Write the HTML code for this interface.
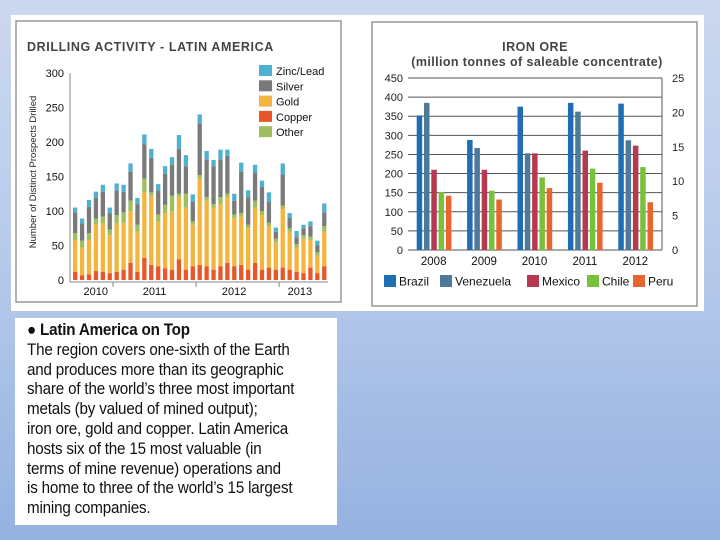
<!DOCTYPE html>
<html><head><meta charset="utf-8"><style>
html,body{margin:0;padding:0;width:720px;height:540px;overflow:hidden;}
body{background:linear-gradient(180deg,#cbd8ef 0%,#b9cbeb 45%,#94b2e0 100%);font-family:"Liberation Sans",sans-serif;position:relative;}
#backing{position:absolute;left:11px;top:15px;width:693px;height:296px;background:#fff;}
#textbox{position:absolute;left:15px;top:318px;width:322px;height:207px;background:#fff;color:#111;overflow:hidden;}
#tb-inner{position:absolute;left:12px;top:3px;font-size:16.5px;line-height:19.8px;white-space:nowrap;transform:scaleX(0.92);transform-origin:0 0;letter-spacing:-0.2px;}
svg{position:absolute;left:0;top:0;}
</style></head><body>
<div id="backing"></div>
<svg width="720" height="540" id="s">
<rect x="16" y="21" width="325" height="281" fill="#fff" stroke="#999" stroke-width="1.5"/>
<text x="27" y="51" font-size="12.5" font-weight="bold" fill="#444" letter-spacing="0.6">DRILLING ACTIVITY - LATIN AMERICA</text>
<text transform="translate(36,172) rotate(-90)" text-anchor="middle" font-size="9.5" fill="#222">Number of Distinct Prospects Drilled</text>
<rect x="372" y="22" width="325" height="284" fill="#fff" stroke="#999" stroke-width="1.5"/>
<text x="535" y="51" text-anchor="middle" font-size="12.5" font-weight="bold" fill="#444" letter-spacing="0.5">IRON ORE</text>
<text x="537" y="66" text-anchor="middle" font-size="12.5" font-weight="bold" fill="#444" letter-spacing="0.4">(million tonnes of saleable concentrate)</text>
<g id="left"></g><g id="right"></g>
</svg>
<div id="textbox"><div id="tb-inner"><b>● Latin America on Top</b><br>The region covers one-sixth of the Earth<br>and produces more than its geographic<br>share of the world’s three most important<br>metals (by valued of mined output);<br>iron ore, gold and copper. Latin America<br>hosts six of the 15 most valuable (in<br>terms of mine revenue) operations and<br>is home to three of the world’s 15 largest<br>mining companies.</div></div>
<script>
const copper=[12,7,8,13,12,10,12,15,25,12,32,22,20,17,15,30,15,20,22,20,15,20,25,20,22,15,25,15,18,15,18,15,12,10,18,10,20];
const gold=[46,40,50,68,70,55,70,68,75,58,95,100,65,80,85,90,90,60,125,95,90,90,95,70,70,60,80,80,60,40,85,55,35,50,40,25,50];
const other=[10,10,10,8,10,8,12,15,15,10,20,5,10,12,22,5,20,5,5,5,5,10,5,5,5,5,10,5,5,5,5,5,5,5,5,5,8];
const silver=[30,25,38,30,36,24,36,30,42,30,50,50,35,45,45,65,40,28,75,55,55,55,55,20,60,40,40,35,30,10,45,15,10,10,15,10,20];
const zinc=[7,7,10,9,10,8,10,10,12,9,14,13,9,11,11,20,16,11,13,12,9,14,9,10,13,10,12,9,14,6,16,7,9,5,7,7,13];
const leftTicks=[0,50,100,150,200,250,300];
const yearLabels=["2010","2011","2012","2013"];
const yearPos=[3,11.5,23,32.5];
const yearSep=[5.5,17.5,29.5];
const seriesNames=["Zinc/Lead","Silver","Gold","Copper","Other"];
const ironYears=["2008","2009","2010","2011","2012"];
const countries=["Brazil","Venezuela","Mexico","Chile","Peru"];
const brazil=[352,288,375,385,383];
const venezuela=[385,267,253,362,287];
const mexico=[210,210,253,260,273];
const chile=[152,155,190,213,217];
const peru=[142,132,162,176,125];
const ironTicksL=[0,50,100,150,200,250,300,350,400,450];
const ironTicksR=[0,5,10,15,20,25];

const NS="http://www.w3.org/2000/svg";
function mk(p,t,a,txt){const e=document.createElementNS(NS,t);for(const k in a)e.setAttribute(k,a[k]);if(txt!=null)e.textContent=txt;p.appendChild(e);return e;}
// LEFT
const L=document.getElementById('left');
const ly=v=>280-v*207/300;
const lx=i=>75+i*6.92;
mk(L,'line',{x1:70,y1:73,x2:70,y2:282,stroke:'#888','stroke-width':1});
mk(L,'line',{x1:70,y1:282,x2:328,y2:282,stroke:'#888','stroke-width':1});
leftTicks.forEach(t=>{
 const e=mk(L,'text',{x:64,y:ly(t)+4,'text-anchor':'end','font-size':11,fill:'#111'},t);
 
 
});
yearSep.forEach(s=>{mk(L,'line',{x1:lx(s),y1:282,x2:lx(s),y2:287,stroke:'#888'});});
yearLabels.forEach((y,i)=>{
 const e=mk(L,'text',{x:lx(yearPos[i]),y:295,'text-anchor':'middle','font-size':11,fill:'#111'},y);
 
 
});
const lcols={copper:'#e8572a',gold:'#f4b43e',other:'#9dbf5e',silver:'#7a7a7a',zinc:'#4fb0cf'};
const lser=[['copper',copper],['gold',gold],['other',other],['silver',silver],['zinc',zinc]];
copper.forEach((_,i)=>{
 let acc=0;
 lser.forEach(([n,arr])=>{
  const v=arr[i];
  const r=mk(L,'rect',{x:lx(i)-2,y:ly(acc+v),width:4.3,height:ly(acc)-ly(acc+v),fill:lcols[n]});
  
  
  acc+=v;
 });
});
const lkeys=['zinc','silver','gold','copper','other'];
seriesNames.forEach((s,i)=>{
 const y=65+i*15.3;
 mk(L,'rect',{x:259,y:y,width:13,height:11,fill:lcols[lkeys[i]]});
 const e=mk(L,'text',{x:276,y:y+10,'font-size':11,fill:'#111'},s);
 
 
});
// RIGHT
const R=document.getElementById('right');
const ry=v=>250-v*172/450;
const gx=g=>416.7+g*50.4;
ironTicksL.forEach(t=>{
 if(t>0)mk(R,'line',{x1:408,y1:ry(t),x2:662,y2:ry(t),stroke:'#555','stroke-width':1});
 const e=mk(R,'text',{x:403,y:ry(t)+4,'text-anchor':'end','font-size':11,fill:'#222'},t);
 
 
});
mk(R,'line',{x1:408,y1:250,x2:662,y2:250,stroke:'#555'});
mk(R,'line',{x1:662,y1:78,x2:662,y2:250,stroke:'#555'});
ironTicksR.forEach(t=>{
 const e=mk(R,'text',{x:672,y:250-t*172/25+4,'font-size':11,fill:'#222'},t);
 
 
});
const icols=['#1f6db3','#4d7a98','#b53a50','#78c13a','#e8652f'];
const iser=[brazil,venezuela,mexico,chile,peru];
ironYears.forEach((y,g)=>{
 const e=mk(R,'text',{x:gx(g)+17,y:265,'text-anchor':'middle','font-size':11.5,fill:'#111'},y);
 
 
 iser.forEach((arr,k)=>{
  const r=mk(R,'rect',{x:gx(g)+k*7.3,y:ry(arr[g]),width:5.5,height:250-ry(arr[g]),fill:icols[k]});
  
  
 });
});
const lgx=[384,440,527,587,633];
countries.forEach((c,k)=>{
 mk(R,'rect',{x:lgx[k],y:275,width:12,height:12,fill:icols[k]});
 const e=mk(R,'text',{x:lgx[k]+15,y:285.5,'font-size':12,fill:'#111'},c);
 
 
});
</script>
</body></html>
